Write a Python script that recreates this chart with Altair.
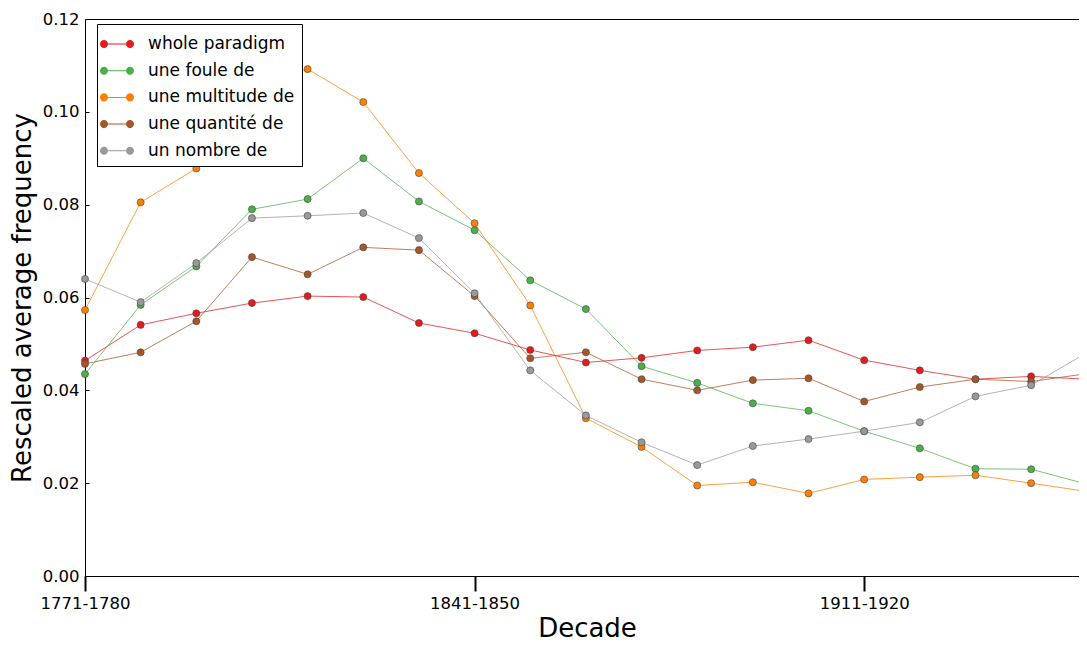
import json
import altair as alt
import pandas as pd

decades = ["1771-1780", "1781-1790", "1791-1800", "1801-1810", "1811-1820",
           "1821-1830", "1831-1840", "1841-1850", "1851-1860", "1861-1870",
           "1871-1880", "1881-1890", "1891-1900", "1901-1910", "1911-1920",
           "1921-1930", "1931-1940", "1941-1950", "1951-1960"]

series_names = ["whole paradigm", "une foule de", "une multitude de",
                "une quantité de", "un nombre de"]
series_colors = ["#e41a1c", "#4daf4a", "#ff7f00", "#a65628", "#999999"]

whole_paradigm = [0.0464, 0.0541, 0.0566, 0.0588, 0.0603, 0.0601, 0.0545,
                  0.0523, 0.0487, 0.0460, 0.0470, 0.0486, 0.0493, 0.0508,
                  0.0465, 0.0443, 0.0424, 0.0430, 0.0424]
une_foule_de = [0.0435, 0.0584, 0.0667, 0.0790, 0.0812, 0.0900, 0.0807,
                0.0745, 0.0637, 0.0575, 0.0452, 0.0416, 0.0372, 0.0356,
                0.0312, 0.0275, 0.0231, 0.0230, 0.0198]
une_multitude_de = [0.0573, 0.0805, 0.0878, 0.1058, 0.1092, 0.1021, 0.0868,
                    0.0760, 0.0583, 0.0340, 0.0278, 0.0195, 0.0202, 0.0178,
                    0.0208, 0.0213, 0.0217, 0.0200, 0.0182]
une_quantite_de = [0.0457, 0.0482, 0.0549, 0.0687, 0.0650, 0.0708, 0.0702,
                   0.0603, 0.0469, 0.0482, 0.0424, 0.0400, 0.0422, 0.0426,
                   0.0376, 0.0407, 0.0424, 0.0419, 0.0436]
un_nombre_de = [0.0640, 0.0590, 0.0674, 0.0771, 0.0776, 0.0782, 0.0728,
                0.0609, 0.0443, 0.0346, 0.0288, 0.0239, 0.0280, 0.0295,
                0.0312, 0.0331, 0.0387, 0.0411, 0.0481]

series_values = [whole_paradigm, une_foule_de, une_multitude_de,
                 une_quantite_de, un_nombre_de]

y_ticks = [0.0, 0.02, 0.04, 0.06, 0.08, 0.10, 0.12]
x_ticks = [0, 7, 14]

rows = []
for name, vals in zip(series_names, series_values):
    for i, (d, v) in enumerate(zip(decades, vals)):
        rows.append({"idx": i, "decade": d, "series": name, "value": v})
df = pd.DataFrame(rows)

# the original plot area runs past the right edge of the picture
W, H = 994, 557
X_MAX = 17.86
FONT = "DejaVu Sans"
label_expr = json.dumps(decades) + "[datum.value]"

# legend symbol: short line with a marker at each end
LEG_PATH = ("M-0.69,-0.04 L0.69,-0.04 L0.69,0.04 L-0.69,0.04 Z "
            "M-1.31,0 A0.31,0.31 0 1,0 -0.69,0 A0.31,0.31 0 1,0 -1.31,0 Z "
            "M0.69,0 A0.31,0.31 0 1,0 1.31,0 A0.31,0.31 0 1,0 0.69,0 Z")

cscale = alt.Scale(domain=series_names, range=series_colors)
xscale = alt.Scale(domain=[0, X_MAX], nice=False, zero=False)
yscale = alt.Scale(domain=[0, 0.12], nice=False)

legend = alt.Legend(title=None, orient="none", legendX=12, legendY=5,
                    symbolType=LEG_PATH, symbolSize=676, symbolStrokeWidth=0,
                    symbolOpacity=1, labelFont=FONT, labelFontSize=17,
                    labelColor="black", labelOffset=18, rowPadding=5.7,
                    padding=7, strokeColor="black", fillColor="white",
                    cornerRadius=0)
color_enc = alt.Color("series:N", scale=cscale, legend=legend)

lines = alt.Chart(df).mark_line(strokeWidth=1, opacity=0.75).encode(
    x=alt.X("idx:Q", scale=xscale,
            axis=alt.Axis(values=x_ticks, labelExpr=label_expr, title="Decade",
                          tickSize=15, tickWidth=2, tickColor="black",
                          labelFlush=False, labelPadding=4,
                          labelFontSize=16.5, labelFont=FONT,
                          labelColor="black", domainColor="black",
                          grid=False, titleFont=FONT, titleFontSize=26,
                          titleFontWeight="normal", titleColor="black",
                          titleX=502, titleY=60, titleAlign="center",
                          titleBaseline="alphabetic")),
    y=alt.Y("value:Q", scale=yscale,
            axis=alt.Axis(values=y_ticks, format=".2f",
                          title="Rescaled average frequency",
                          ticks=False, tickSize=0, labelPadding=6,
                          labelFlush=False,
                          labelFontSize=16.5, labelFont=FONT, labelColor="black",
                          domainColor="black", grid=False, titleFont=FONT,
                          titleFontSize=26, titleFontWeight="normal",
                          titleColor="black", titleAngle=270,
                          titleX=-55, titleY=H / 2, titleAlign="center",
                          titleBaseline="alphabetic")),
    color=color_enc,
    order=alt.Order("idx:Q"),
)

points = alt.Chart(df).mark_circle(size=50, opacity=1, stroke="#444444",
                                   strokeWidth=0.6).encode(
    x=alt.X("idx:Q", scale=xscale,
            axis=alt.Axis(orient="top", labels=False, ticks=False, title=None,
                          grid=False, domainColor="black")),
    y=alt.Y("value:Q", scale=yscale,
            axis=alt.Axis(orient="right", offset=-W, values=y_ticks,
                          labels=False, domain=False, tickSize=4,
                          tickColor="black", title=None, grid=False)),
    color=color_enc,
)

chart = alt.layer(lines, points).resolve_axis(
    x="independent", y="independent"
).properties(
    width=W, height=H,
    padding={"left": 77, "top": 11, "right": 0, "bottom": 62},
    autosize=alt.AutoSizeParams(type="none"),
    background="white",
).configure_view(stroke=None)

chart.save("out.html", embed_options={"renderer": "svg", "actions": False})
